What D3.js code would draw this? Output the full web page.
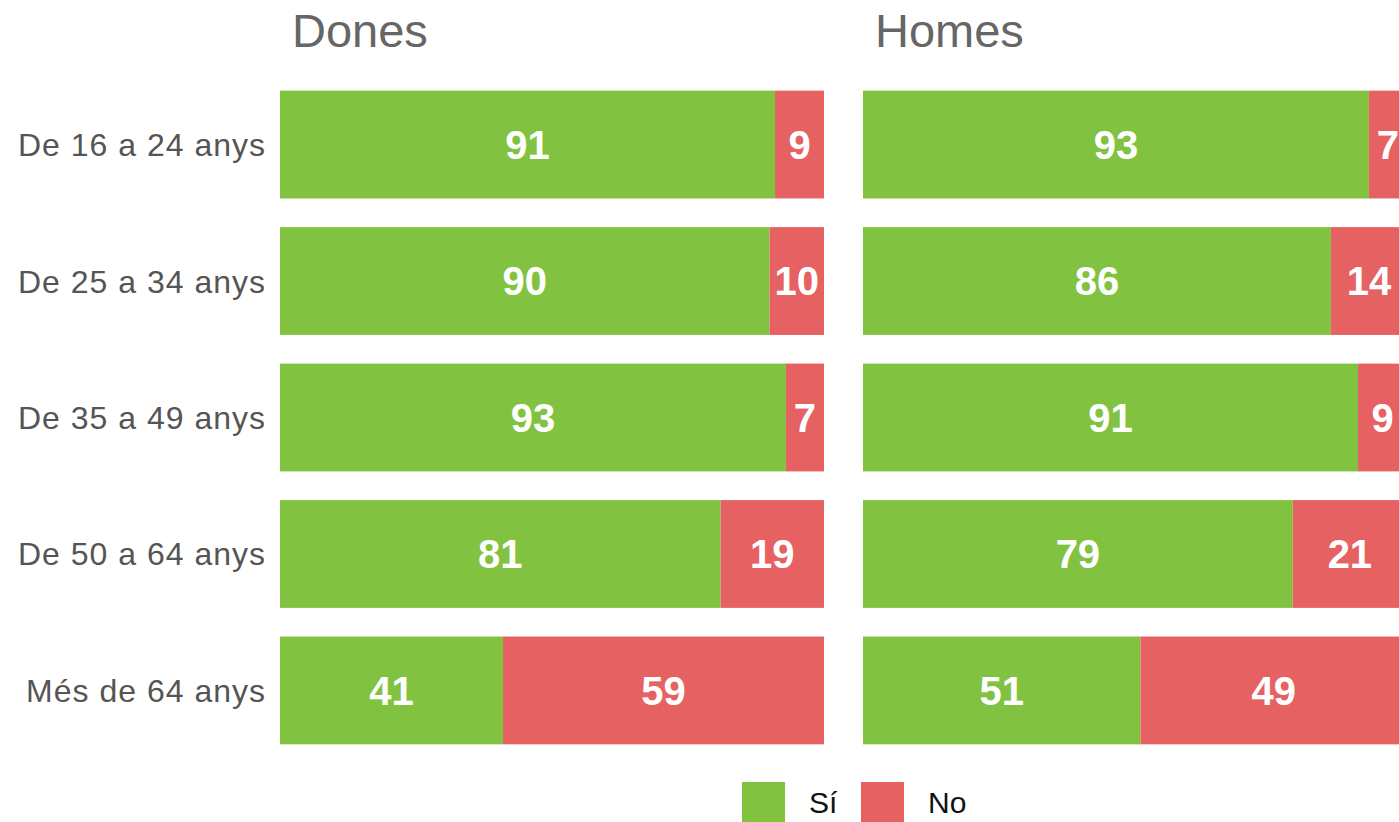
<!DOCTYPE html>
<html>
<head>
<meta charset="utf-8">
<script src="https://cdn.jsdelivr.net/npm/d3@7"></script>
<style>
  body { margin: 0; background: #fff; }
  svg { display: block; font-family: "Liberation Sans", Arial, sans-serif; }
</style>
</head>
<body>
<svg id="chart" width="1399" height="822"></svg>
<script>
// age groups, top to bottom
const ageGroups = ["De 16 a 24 anys", "De 25 a 34 anys", "De 35 a 49 anys", "De 50 a 64 anys", "Més de 64 anys"];
const panels = ["Dones", "Homes"];
const answers = ["Sí", "No"];

const donesSi = [91, 90, 93, 81, 41];
const donesNo = [9, 10, 7, 19, 59];
const homesSi = [93, 86, 91, 79, 51];
const homesNo = [7, 14, 9, 21, 49];

const colors = {"Sí": "#81c341", "No": "#e66162"};

const svg = d3.select("#chart");

const y = d3.scaleBand()
    .domain(ageGroups)
    .range([77, 758])
    .paddingInner(0.21)
    .paddingOuter(0.1);

// each panel gets its own x range (right one runs past the edge, like the original)
const panelX = {
    "Dones": d3.scaleLinear().domain([0, 100]).range([280, 824]),
    "Homes": d3.scaleLinear().domain([0, 100]).range([863, 1407])
};

const panelData = {
    "Dones": ageGroups.map((g, i) => ({group: g, "Sí": donesSi[i], "No": donesNo[i]})),
    "Homes": ageGroups.map((g, i) => ({group: g, "Sí": homesSi[i], "No": homesNo[i]}))
};

const stack = d3.stack().keys(answers);

panels.forEach(p => {
    let x = panelX[p];
    let g = svg.append("g").attr("class", "panel");

    g.append("text")
        .attr("x", x(0) + 12)
        .attr("y", 47)
        .attr("fill", "#666")
        .style("font-size", "47px")
        .text(p);

    let series = stack(panelData[p]);
    let layers = g.selectAll("g.layer").data(series).enter()
        .append("g")
        .attr("class", "layer")
        .attr("fill", d => colors[d.key]);

    layers.selectAll("rect").data(d => d).enter()
        .append("rect")
        .attr("x", d => x(d[0]))
        .attr("y", d => y(d.data.group))
        .attr("width", d => x(d[1]) - x(d[0]))
        .attr("height", y.bandwidth());

    layers.selectAll("text").data(d => d).enter()
        .append("text")
        .attr("x", d => (x(d[0]) + x(d[1])) / 2)
        .attr("y", d => y(d.data.group) + y.bandwidth() / 2)
        .attr("dy", "0.36em")
        .attr("text-anchor", "middle")
        .attr("fill", "#fff")
        .style("font-size", "40px")
        .style("font-weight", "bold")
        .text(d => d[1] - d[0]);
});

// row labels
svg.append("g").selectAll("text").data(ageGroups).enter()
    .append("text")
    .attr("x", 266)
    .attr("y", d => y(d) + y.bandwidth() / 2)
    .attr("dy", "0.36em")
    .attr("text-anchor", "end")
    .attr("fill", "#555")
    .style("font-size", "32px")
    .style("letter-spacing", "1px")
    .text(d => d);

// legend
const legendX = [742, 861];
let legend = svg.append("g").selectAll("g").data(answers).enter()
    .append("g")
    .attr("transform", (d, i) => `translate(${legendX[i]},782)`);

legend.append("rect")
    .attr("width", 43)
    .attr("height", 40)
    .attr("fill", d => colors[d]);

legend.append("text")
    .attr("x", 67)
    .attr("y", 20)
    .attr("dy", "0.36em")
    .attr("fill", "#111")
    .style("font-size", "30px")
    .text(d => d);
</script>
</body>
</html>
